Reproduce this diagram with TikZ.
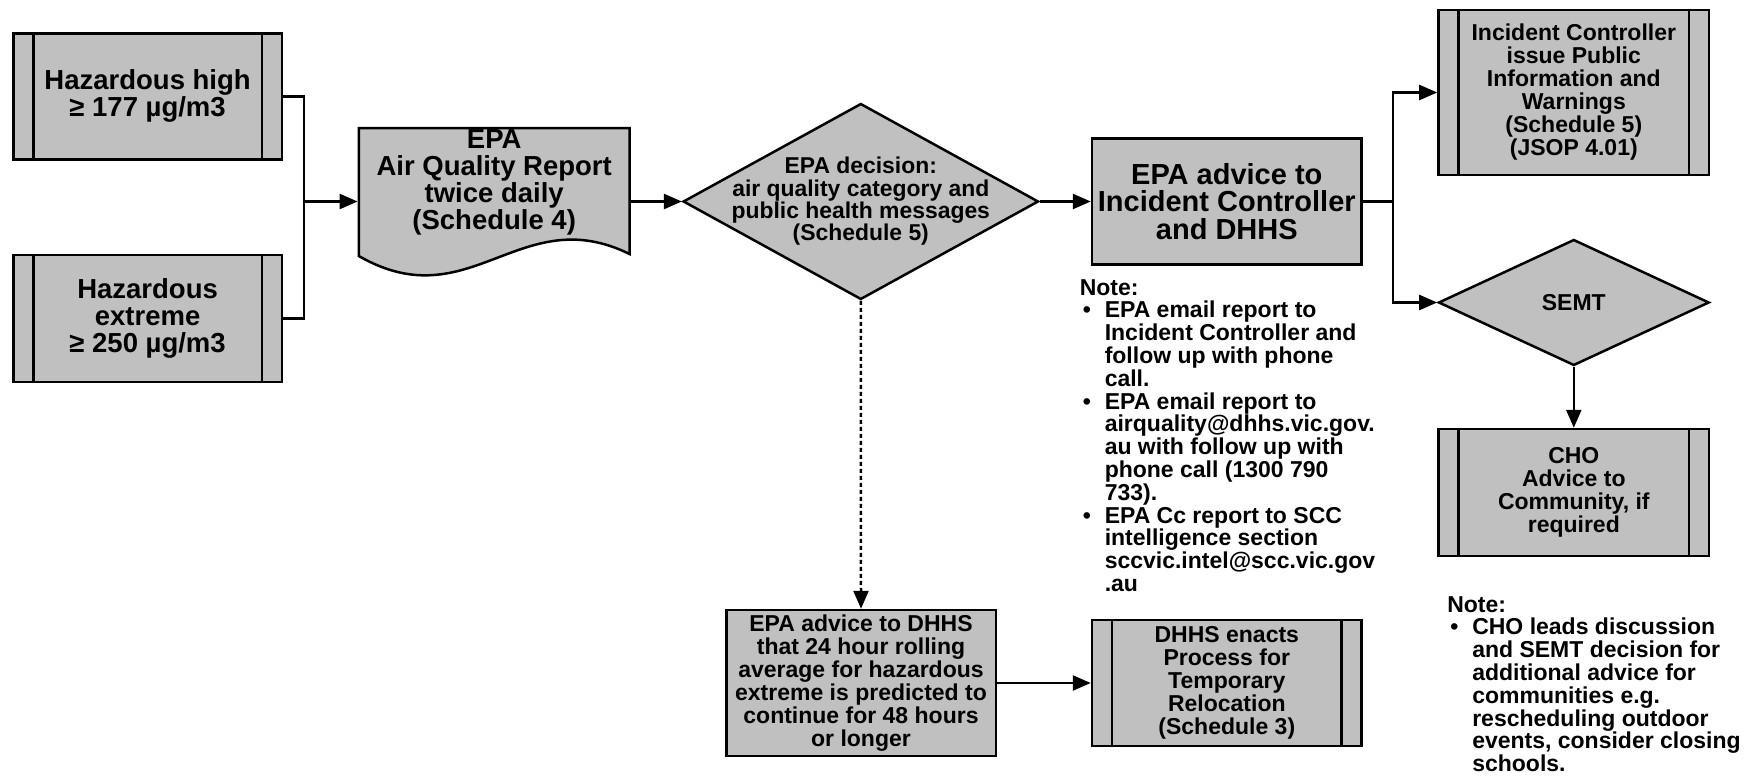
\documentclass[tikz,border=0pt]{standalone}
\usepackage{fontspec}
\setmainfont{Liberation Sans}
\usetikzlibrary{arrows.meta}
\usetikzlibrary{shapes.geometric}
\definecolor{boxgray}{RGB}{192,192,192}
\newcommand{\notebullet}{\makebox[25pt][l]{\hspace{3pt}\textbullet}}
\newcommand{\noteindent}{\hspace*{25pt}}

\begin{document}
\begin{tikzpicture}[x=1pt, y=-1pt, line width=2.5pt,
    box/.style={draw, fill=boxgray, align=center, inner sep=0pt},
    procbox/.style={box, path picture={
        \draw[line width=2.5pt] ([xshift=20pt]path picture bounding box.north west) -- ([xshift=20pt]path picture bounding box.south west);
        \draw[line width=2.5pt] ([xshift=-20pt]path picture bounding box.north east) -- ([xshift=-20pt]path picture bounding box.south east);}},
    decision/.style={draw, fill=boxgray, diamond, inner sep=0pt},
    arr/.style={-{Triangle[length=18pt,width=15pt]}},
    bigtext/.style={font=\fontsize{27.5}{27}\selectfont\bfseries},
    smalltext/.style={font=\fontsize{23}{23}\selectfont\bfseries},
    notetext/.style={align=left, inner sep=0pt, font=\fontsize{23}{22.8}\selectfont\bfseries}]
      \useasboundingbox (0,0) rectangle (1747,776);

      \node[procbox, bigtext, minimum width=268.5pt, minimum height=126pt] (high) at (147.6,96.4) {Hazardous high\\≥ 177 µg/m3};
      \node[procbox, bigtext, minimum width=268.5pt, minimum height=127pt] (extreme) at (147.6,318.6) {Hazardous\\extreme\\≥ 250 µg/m3};

      \draw[fill=boxgray] (358.8,128) -- (629.5,128) -- (629.5,254) .. controls (520,200) and (470,320) .. (358.8,256) -- cycle;
      \node[bigtext, align=center, minimum width=270.7pt, inner sep=0pt] (report) at (494.2,182) {EPA\\Air Quality Report\\twice daily\\(Schedule 4)};

      \coordinate (join1) at (304,201.5);
      \draw (high.east) -| (join1) |- (extreme.east);
      \draw[arr] (join1) -- (join1 -| report.west);

      \node[decision, minimum width=355.4pt, minimum height=196pt,
            label={[align=center, font=\fontsize{22.9}{22.3}\selectfont\bfseries]center:EPA decision:\\air quality category and\\public health messages\\(Schedule 5)}] (aqdecision) at (860.8,201.5) {};
      \draw[arr] (report.east |- join1) -- (aqdecision.west);

      \node[box, font=\fontsize{29}{27.3}\selectfont\bfseries, minimum width=269.6pt, minimum height=126pt] (advice) at (1226.8,201.5) {EPA advice to\\Incident Controller\\and DHHS};
      \draw[arr] (aqdecision.east) -- (advice.west);

      \node[procbox, smalltext, minimum width=270.7pt, minimum height=165pt] (incident) at (1573.8,92.5) {Incident Controller\\issue Public\\Information and\\Warnings\\(Schedule 5)\\(JSOP 4.01)};
      \node[decision, smalltext, minimum width=270.7pt, minimum height=126pt] (semt) at (1573.8,302.5) {SEMT};
      \node[procbox, smalltext, minimum width=270.7pt, minimum height=127pt] (cho) at (1573.8,492.5) {CHO\\Advice to\\Community, if\\required};

      \coordinate (split) at (1392.8,201.5);
      \draw (advice.east) -- (split);
      \draw[arr] (split) |- (incident.west);
      \draw[arr] (split) |- (semt.west);
      \draw[arr] (semt.south) -- (cho.north);

      \node[box, smalltext, minimum width=269.5pt, minimum height=146pt] (dhhsadvice) at (861,683) {EPA advice to DHHS\\that 24 hour rolling\\average for hazardous\\extreme is predicted to\\continue for 48 hours\\or longer};
      \node[procbox, smalltext, minimum width=269.6pt, minimum height=126pt] (relocation) at (1226.8,683) {DHHS enacts\\Process for\\Temporary\\Relocation\\(Schedule 3)};
      \draw[arr, dash pattern=on 4pt off 3pt] (aqdecision.south) -- (dhhsadvice.north);
      \draw[arr] (dhhsadvice.east) -- (relocation.west);

      \node[notetext, anchor=north west] (note1) at (1078.5,278) {Note:\\
        \notebullet EPA email report to\\
        \noteindent Incident Controller and\\
        \noteindent follow up with phone\\
        \noteindent call.\\
        \notebullet EPA email report to\\
        \noteindent airquality@dhhs.vic.gov.\\
        \noteindent au with follow up with\\
        \noteindent phone call (1300 790\\
        \noteindent 733).\\
        \notebullet EPA Cc report to SCC\\
        \noteindent intelligence section\\
        \noteindent sccvic.intel@scc.vic.gov\\
        \noteindent .au};

      \node[notetext, anchor=north west] (note2) at (1446,595) {Note:\\
        \notebullet CHO leads discussion\\
        \noteindent and SEMT decision for\\
        \noteindent additional advice for\\
        \noteindent communities e.g.\\
        \noteindent rescheduling outdoor\\
        \noteindent events, consider closing\\
        \noteindent schools.};
    \end{tikzpicture}
\end{document}
